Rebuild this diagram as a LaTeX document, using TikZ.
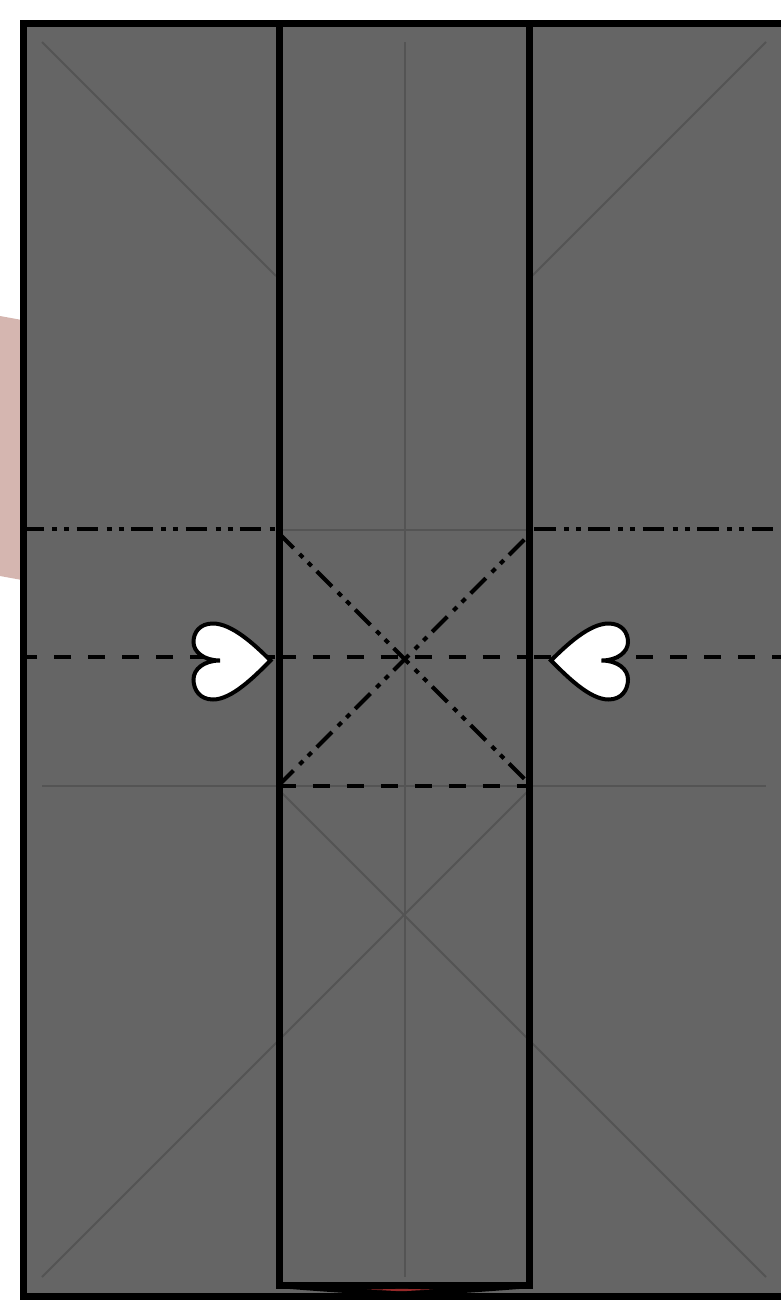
\documentclass[tikz,border=0pt]{standalone}
\usepackage{xcolor}
\definecolor{SheetGray}{RGB}{101,101,101}
\definecolor{CreaseGray}{RGB}{84,84,84}
\definecolor{FlapPink}{RGB}{213,182,176}
\definecolor{TipRed}{RGB}{150,40,40}
\begin{document}
\begin{tikzpicture}[
          x=1pt, y=-1pt,
          crease/.style={draw=CreaseGray, line width=2pt},
          outline/.style={draw=black, line width=7pt, line join=miter},
          valley/.style={draw=black, line width=4pt, dash pattern=on 17pt off 17pt},
          ridge/.style={draw=black, line width=4pt,
                        dash pattern=on 21.5pt off 8.5pt on 5pt off 7pt on 5pt off 7.4pt},
          heartpic/.pic={
            \draw[fill=white, draw=black, line width=4pt, line join=miter]
              (270.5,660.5) .. controls (255,645) and (232,623.5) .. (213,623.5)
              .. controls (200,623.5) and (193.5,632) .. (193.5,642)
              .. controls (193.5,652) and (204,660.5) .. (220,660.5)
              .. controls (204,660.5) and (193.5,669) .. (193.5,679.5)
              .. controls (193.5,690) and (200,699.5) .. (213,699.5)
              .. controls (232,699.5) and (255,676) .. cycle;
          }
        ]
        \useasboundingbox (0,0) rectangle (780,1302);

        % Flap behind the sheet
        \fill[FlapPink] (0,316) -- (22,320) -- (22,580) -- (0,576) -- cycle;

        % Sheet
        \fill[SheetGray] (23,23) rectangle (800,1296);

        % Thin creases
        \draw[crease] (42,42) -- (276,276);
        \draw[crease] (766,42) -- (532,276);
        \draw[crease] (404.5,42) -- (404.5,1277);
        \draw[crease] (282,530) -- (527,530);
        \draw[crease] (42,786) -- (766,786);
        \draw[crease] (42,1277) -- (531,788);
        \draw[crease] (766,1277) -- (277,788);

        % Folds
        \draw[ridge] (22.3,529) -- (275,529);
        \draw[ridge] (534,529) -- (790,529);
        \draw[ridge] (278.3,532.8) -- (525.5,780);
        \draw[ridge] (278.3,785.7) -- (525.5,538.5);
        \draw[valley] (275,657) -- (23,657);
        \draw[valley] (278.7,657) -- (526,657);
        \draw[valley] (534,657) -- (790,657);
        \draw[valley] (278.7,785.5) -- (526,785.5);

        % Strip and frame
        \draw[outline] (279.5,23) -- (279.5,1285) -- (529,1285) -- (529,23);
        \draw[outline] (800,23) -- (23,23) -- (23,1296) -- (800,1296);

        % Bottom edge of the strip
        \fill[black] (276,1288) .. controls (320,1291) and (360,1295) .. (404.5,1295)
              .. controls (449,1295) and (489,1291) .. (533,1288) -- cycle;
        \fill[TipRed] (367,1289.6) .. controls (385,1289.2) and (392,1289) .. (401.7,1288.9)
              .. controls (412,1289) and (420,1289.2) .. (433,1289.6)
              .. controls (420,1290) and (410,1291) .. (401.7,1291.2)
              .. controls (392,1291) and (382,1290) .. cycle;

        % Hearts
        \pic {heartpic};
        \pic[xshift=821.5pt, xscale=-1] {heartpic};
      \end{tikzpicture}
\end{document}
